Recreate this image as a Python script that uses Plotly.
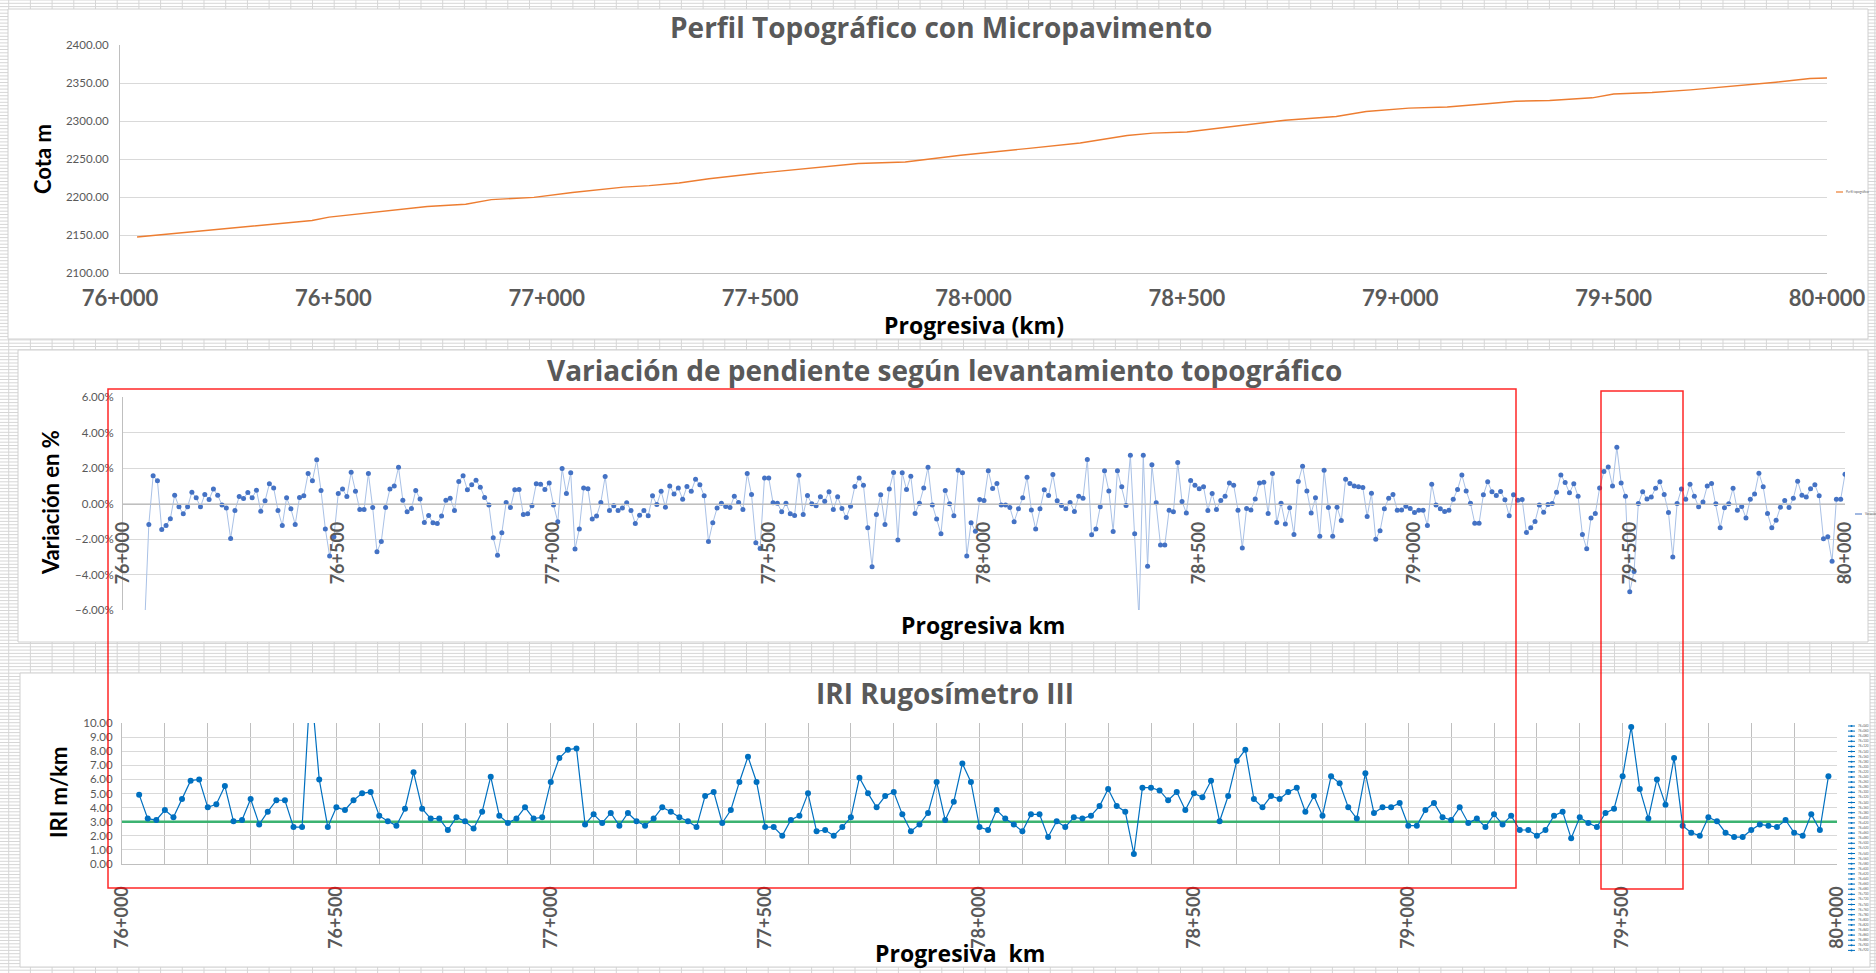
import plotly.graph_objects as go

W, H = 1876, 973

# ------------------------------------------------------------------ data
TICK_KM = [76000, 76500, 77000, 77500, 78000, 78500, 79000, 79500, 80000]
TICK_TEXT = ["76+000", "76+500", "77+000", "77+500", "78+000",
             "78+500", "79+000", "79+500", "80+000"]

# Perfil topográfico (cota en m)
TOPO_KM = [76040, 76220, 76450, 76490, 76600, 76720, 76810, 76870, 76970, 77060,
           77180, 77240, 77310, 77380, 77500, 77730, 77840, 77970, 78130, 78250,
           78360, 78420, 78500, 78600, 78730, 78850, 78920, 79020, 79110, 79210,
           79270, 79350, 79450, 79500, 79590, 79680, 79800, 79880, 79960, 80000]
TOPO_COTA = [2147.4, 2157.0, 2169.0, 2173.5, 2180.0, 2187.5, 2190.5, 2196.5, 2199.5, 2206.0,
             2213.0, 2215.0, 2218.5, 2224.0, 2231.5, 2244.0, 2246.0, 2255.0, 2264.0, 2271.0,
             2281.0, 2284.0, 2285.5, 2292.0, 2301.0, 2306.0, 2312.5, 2317.0, 2318.5, 2323.0,
             2326.0, 2327.0, 2330.5, 2335.5, 2337.5, 2341.0, 2347.0, 2351.0, 2356.0, 2356.5]

# Variación de pendiente (%), una lectura cada 10 m
SLOPE_KM = list(range(76050, 80001, 10))
SLOPE_PCT = [
    -7.0,
    -1.18, 1.56, 1.28, -1.46, -1.24, -0.86, 0.47, -0.19, -0.58, -0.19,
    0.64, 0.32, -0.19, 0.51, 0.23, 0.81, 0.47, -0.09, -0.26, -1.97,
    -0.39, 0.39, 0.28, 0.62, 0.32, 0.75, -0.43, 0.15, 1.11, 0.88,
    -0.39, -1.24, 0.32, -0.30, -1.18, 0.34, 0.43, 1.69, 1.28, 2.46,
    0.73, -1.43, -2.96, -1.88, 0.56, 0.81, 0.39, 1.76, 0.69, -0.34,
    -0.34, 1.69, -0.23, -2.72, -2.14, -0.23, 0.81, 0.99, 2.04, 0.19,
    -0.47, -0.28, 0.73, 0.26, -1.07, -0.68, -1.09, -1.13, -0.71, 0.19,
    0.30, -0.39, 1.24, 1.56, 0.77, 1.05, 1.31, 0.92, 0.34, -0.09,
    -1.93, -2.91, -1.65, 0.06, -0.23, 0.77, 0.79, -0.62, -0.58, -0.13,
    1.11, 1.09, 0.79, 1.16, -0.08, -1.03, 1.97, 0.56, 1.73, -2.57,
    -1.43, 0.88, 0.83, -0.88, -0.71, 0.06, 1.52, -0.39, -0.13, -0.39,
    -0.26, 0.04, -0.39, -1.13, -0.66, -0.39, -0.69, 0.43, -0.06, 0.69,
    -0.21, 0.98, 0.54, 0.88, 0.24, 0.96, 0.69, 1.37, 1.05,
    0.43, -2.14, -1.09, -0.26, 0.02, -0.17, -0.23, 0.41, 0.06, -0.34,
    1.69, 0.51, -2.21, -2.53, 1.43, 1.44, 0.04, 0.02, -0.47, 0.02,
    -0.58, -0.68, 1.59, -0.62, 0.45, -0.02, -0.13, 0.38, 0.13, 0.66,
    -0.34, 0.38, -0.28, -0.79, -0.15, 0.96, 1.44, 1.03, -1.37, -3.56,
    -0.62, 0.49, -1.18, 0.81, 1.74, -2.06, 1.73, 0.79, 1.54, -0.56,
    0.02, 0.88, 2.04, -0.08, -0.88, -1.71, 0.73, -0.02, -0.69, 1.88,
    1.73, -2.96, -1.09, -1.56, 0.23, 0.17, 1.84, 0.84, 1.13, -0.08,
    -0.08, -0.23, -1.03, -0.30, 0.32, 1.48, -0.36, -1.43, -0.30, 0.77,
    0.45, 1.63, 0.15, -0.11, -0.30, 0.06, -0.45, 0.41, 0.30, 2.48,
    -1.76, -1.43, -0.19, 1.84, 0.71, -1.58, 1.84, 0.94, -0.11, 2.72,
    -1.71, -6.5, 2.72, -3.54, 2.19, 0.04, -2.34, -2.34, -0.38, -0.47,
    2.31, 0.11, -0.53, 1.29, 1.03, 0.83, 0.94, -0.39, 0.56, -0.34,
    0.17, 0.41, 1.16, 1.03, -0.38, -2.51, -0.28, -0.36, 0.26, 1.16,
    1.20, -0.56, 1.69, -1.07, 0.02, -1.16, -0.24, -1.74, 1.24,
    2.10, 0.71, -0.54, 0.32, -1.84, 1.88, -0.23, -1.84, -0.21, -0.96,
    1.37, 1.13, 0.99, 0.94, 0.90, -0.73, 0.58, -2.01, -1.54, -0.30,
    0.30, 0.51, -0.38, -0.36, -0.15, -0.28, -0.51, -0.38, -0.38, -1.24,
    1.09, -0.09, -0.30, -0.45, -0.38, 0.24, 0.79, 1.61, 0.71, 0.02,
    -1.11, -1.11, 0.49, 1.22, 0.66, 0.45, 0.68, 0.21, -0.69, 0.49,
    0.19, 0.23, -1.63, -1.37, -1.01, -0.08, -0.49, -0.06, 0.00, 0.64,
    1.61, 1.18, 0.60, 1.11, 0.41, -1.74, -2.55, -0.81, -0.56, 0.88,
    1.80, 2.06, 0.99, 3.17, 1.16, 0.41, -4.97, -3.83, 0.00, 0.66,
    0.26, 0.36, 0.86, 1.22, 0.51, -0.51, -3.02, 0.00, 0.81, 0.24,
    1.09, 0.41, -0.19, 0.08, 0.98, 1.13, -0.02, -1.37, -0.24, -0.02,
    0.86, -0.38, -0.17, -0.81, 0.24, 0.54, 1.71, 0.94, -0.56, -1.37,
    -0.94, -0.21, 0.17, -0.23, 0.30, 1.26, 0.47, 0.36, 0.83, 1.05,
    0.43, -1.99, -1.88, -3.26, 0.24, 0.24, 1.65,
]

# IRI (m/km), una lectura cada 20 m
IRI_KM = list(range(76040, 79981, 20))
IRI_VAL = [
    4.92, 3.22, 3.12, 3.83, 3.31, 4.61, 5.91, 6.00, 4.02, 4.23,
    5.53, 3.03, 3.12, 4.61, 2.81, 3.71, 4.52, 4.52, 2.62, 2.62,
    13.0, 6.00, 2.62, 4.02, 3.83, 4.52, 5.01, 5.11, 3.43, 3.03,
    2.72, 3.92, 6.50, 3.92, 3.22, 3.22, 2.41, 3.31, 3.03, 2.51,
    3.71, 6.19, 3.43, 2.91, 3.22, 4.02, 3.22, 3.31, 5.82, 7.52,
    8.11, 8.20, 2.81, 3.52, 2.91, 3.62, 2.72, 3.62, 3.03, 2.72,
    3.22, 4.02, 3.71, 3.31, 3.03, 2.62,
    4.82, 5.11, 2.91, 3.83, 5.82, 7.61, 5.82, 2.62, 2.62, 2.01,
    3.12, 3.43, 5.01, 2.32, 2.41, 2.01, 2.62, 3.31, 6.12, 5.01,
    4.02, 4.82, 5.11, 3.52, 2.32, 2.81, 3.62, 5.82, 3.12, 4.42,
    7.12, 5.82, 2.62, 2.41, 3.83, 3.22, 2.81, 2.32, 3.52, 3.52,
    1.91, 3.03, 2.62, 3.31, 3.22, 3.43, 4.11, 5.32, 4.11, 3.71,
    0.71, 5.41, 5.41, 5.22, 4.52, 5.11, 3.83, 5.01, 4.73, 5.91,
    3.03, 4.82, 7.30, 8.11, 4.61, 4.02, 4.82, 4.61, 5.11, 5.41,
    3.71, 4.82, 3.43, 6.22, 5.72, 4.02,
    3.22, 6.43, 3.62, 4.02, 4.02, 4.33, 2.72, 2.72, 3.83, 4.33,
    3.31, 3.12, 4.02, 2.91, 3.22, 2.62, 3.52, 2.81, 3.43, 2.41,
    2.41, 2.01, 2.41, 3.43, 3.71, 1.82, 3.31, 2.91, 2.62, 3.62,
    3.92, 6.22, 9.72, 5.32, 3.22, 6.00, 4.21, 7.52, 2.72, 2.22,
    2.01, 3.31, 3.03, 2.22, 1.91, 1.91, 2.41, 2.81, 2.72, 2.62,
    3.12, 2.22, 2.01, 3.52, 2.41, 6.22,
]
IRI_LIMIT = 3.0

assert len(SLOPE_KM) == len(SLOPE_PCT), (len(SLOPE_KM), len(SLOPE_PCT))
assert len(IRI_KM) == len(IRI_VAL), (len(IRI_KM), len(IRI_VAL))

# ------------------------------------------------------------------ helpers
LATO = "Lato, 'Open Sans', sans-serif"
OPEN = "'Open Sans', Lato, sans-serif"
GRAY = "#595959"
GRID = "#D9D9D9"
AXL = "#BFBFBF"


def px(x):
    return x / W


def py(y):
    return 1 - y / H


# plot-area rectangles in page pixels (left, top, right, bottom)
P1 = (120, 45, 1827, 273)
P2 = (123, 397, 1845, 610)
P3 = (122, 723, 1837, 864)


def xdom(p):
    return [px(p[0]), px(p[2])]


def ydom(p):
    return [py(p[3]), py(p[1])]


fig = go.Figure()

fig.add_trace(go.Scatter(x=TOPO_KM, y=TOPO_COTA, mode="lines",
                         line=dict(color="#ED7D31", width=1.4),
                         xaxis="x", yaxis="y", showlegend=False))
fig.add_trace(go.Scatter(x=SLOPE_KM, y=SLOPE_PCT, mode="lines+markers",
                         line=dict(color="#A9C1E6", width=1),
                         marker=dict(color="#4472C4", size=5),
                         xaxis="x2", yaxis="y2", showlegend=False))
fig.add_trace(go.Scatter(x=[TICK_KM[0], TICK_KM[-1]], y=[IRI_LIMIT, IRI_LIMIT], mode="lines",
                         line=dict(color="#3CB371", width=2.5),
                         xaxis="x3", yaxis="y3", showlegend=False))
fig.add_trace(go.Scatter(x=IRI_KM, y=IRI_VAL, mode="lines+markers",
                         line=dict(color="#0070C0", width=1.2),
                         marker=dict(color="#0070C0", size=6),
                         xaxis="x3", yaxis="y3", showlegend=False))

ytick_font = dict(family=LATO, size=11.5, color=GRAY)
xrange = [TICK_KM[0], TICK_KM[-1]]

layout = dict(
    width=W, height=H,
    margin=dict(l=0, r=0, t=0, b=0, autoexpand=False),
    paper_bgcolor="white", plot_bgcolor="rgba(0,0,0,0)",
    showlegend=False,
    xaxis=dict(domain=xdom(P1), anchor="y", range=xrange, tickmode="array",
               tickvals=TICK_KM, ticktext=TICK_TEXT, showgrid=False, zeroline=False,
               showline=True, linecolor=AXL, ticks="", ticklabelstandoff=6,
               automargin=False,
               tickfont=dict(family=LATO, size=22, color=GRAY, weight="bold")),
    yaxis=dict(domain=ydom(P1), anchor="x", range=[2100, 2400], dtick=50,
               tickformat=".2f", gridcolor=GRID, zeroline=False, showline=True,
               linecolor=AXL, ticks="", ticklabelstandoff=8, tickfont=ytick_font,
               automargin=False),
    xaxis2=dict(domain=xdom(P2), anchor="free",
                position=(ydom(P2)[0] + ydom(P2)[1]) / 2,
                range=xrange, tickmode="array", tickvals=TICK_KM, ticktext=TICK_TEXT,
                tickangle=-90, showgrid=False, zeroline=False, showline=True,
                linecolor=AXL, ticks="", ticklabelstandoff=10, automargin=False,
                tickfont=dict(family=LATO, size=18, color=GRAY, weight="bold")),
    yaxis2=dict(domain=ydom(P2), anchor="x2", range=[-6, 6], dtick=2,
                tickformat=".2f", ticksuffix="%", gridcolor=GRID, zeroline=False,
                showline=True, linecolor=AXL, ticks="", ticklabelstandoff=6,
                tickfont=ytick_font, automargin=False),
    xaxis3=dict(domain=xdom(P3), anchor="y3", range=xrange, tickmode="array",
                tickvals=TICK_KM, ticktext=TICK_TEXT, tickangle=-90,
                showgrid=True, gridcolor=AXL, zeroline=False, showline=True,
                linecolor=AXL, ticks="", ticklabelstandoff=14, automargin=False,
                minor=dict(tickmode="linear", tick0=TICK_KM[0], dtick=100,
                           showgrid=True, gridcolor=AXL, ticks=""),
                tickfont=dict(family=LATO, size=18, color=GRAY, weight="bold")),
    yaxis3=dict(domain=ydom(P3), anchor="x3", range=[0, 10], dtick=1,
                tickformat=".2f", gridcolor=GRID, zeroline=False, showline=True,
                linecolor=AXL, ticks="", ticklabelstandoff=6, tickfont=ytick_font,
                automargin=False),
)
fig.update_layout(**layout)

# ------------------------------------------------------------------ shapes
shapes = []

# spreadsheet cell grid behind the charts
segs = []
y = 0.0
while y <= H:
    segs.append(f"M0,{py(y):.5f}L1,{py(y):.5f}")
    y += 3.3
x = 8.7
while x <= W:
    segs.append(f"M{px(x):.5f},0L{px(x):.5f},1")
    x += 21.7
shapes.append(dict(type="path", xref="paper", yref="paper", path="".join(segs),
                   line=dict(color="#D6D6D6", width=1), layer="below"))

# chart areas (white boxes with light border)
for (l, t, r, b) in [(8, 9, 1868, 339), (18, 350, 1868, 642), (20, 673, 1870, 967)]:
    shapes.append(dict(type="rect", xref="paper", yref="paper",
                       x0=px(l), x1=px(r), y0=py(b), y1=py(t),
                       line=dict(color="#D0D0D0", width=1), fillcolor="white",
                       layer="below"))

# red highlight rectangles
for (l, t, r, b) in [(108, 389, 1516, 888), (1601, 391, 1683, 889)]:
    shapes.append(dict(type="rect", xref="paper", yref="paper",
                       x0=px(l), x1=px(r), y0=py(b), y1=py(t),
                       line=dict(color="rgba(255,0,0,0.85)", width=1.5),
                       fillcolor="rgba(0,0,0,0)", layer="above"))

# tiny legends
shapes.append(dict(type="line", xref="paper", yref="paper", x0=px(1836), x1=px(1843),
                   y0=py(192), y1=py(192), line=dict(color="#ED7D31", width=1.2)))
shapes.append(dict(type="line", xref="paper", yref="paper", x0=px(1855), x1=px(1862),
                   y0=py(514), y1=py(514), line=dict(color="#4472C4", width=1)))

annotations = []


def ann(text, x, y, size, color, family=LATO, bold=True, angle=0, xanchor="center"):
    annotations.append(dict(text=text, x=px(x), y=py(y), xref="paper", yref="paper",
                            showarrow=False, textangle=angle, xanchor=xanchor,
                            yanchor="middle",
                            font=dict(family=family, size=size, color=color,
                                      weight="bold" if bold else "normal")))


ann("Perfil Topográfico con Micropavimento", 941, 27, 28, GRAY, family=OPEN)
ann("Variación de pendiente según levantamiento topográfico", 945, 370, 28, GRAY, family=OPEN)
ann("IRI Rugosímetro III", 945, 693, 28, GRAY, family=OPEN)
ann("Cota m", 43, 159, 22, "black", angle=-90)
ann("Variación en %", 50, 503, 22, "black", angle=-90)
ann("IRI m/km", 58, 793, 22, "black", angle=-90)
ann("Progresiva (km)", 974, 325, 23, "black", family=OPEN)
ann("Progresiva km", 983, 625, 23, "black", family=OPEN)
ann("Progresiva\u00a0 km", 960, 953, 23, "black", family=OPEN)
ann("Perfil topográfico", 1844, 192, 3, GRAY, bold=False, xanchor="left")
ann("Variación", 1863, 514, 3, GRAY, bold=False, xanchor="left")

# IRI legend column (one small entry per series, as in the worksheet)
for i, km in enumerate(IRI_KM[:45]):
    yy = 726 + i * 5.1
    shapes.append(dict(type="line", xref="paper", yref="paper", x0=px(1848), x1=px(1855),
                       y0=py(yy), y1=py(yy), line=dict(color="#0070C0", width=1)))
    shapes.append(dict(type="circle", xref="paper", yref="paper",
                       x0=px(1850.5), x1=px(1852.5), y0=py(yy + 1), y1=py(yy - 1),
                       line=dict(width=0), fillcolor="#0070C0"))
    label = f"{km // 1000}+{km % 1000:03d}"
    ann(label, 1856, yy, 3, GRAY, bold=False, xanchor="left")

fig.update_layout(shapes=shapes, annotations=annotations)

fig.write_html("out.html", config={"displayModeBar": False},
               post_script="document.body.style.margin='0';document.body.style.overflow='hidden';")
